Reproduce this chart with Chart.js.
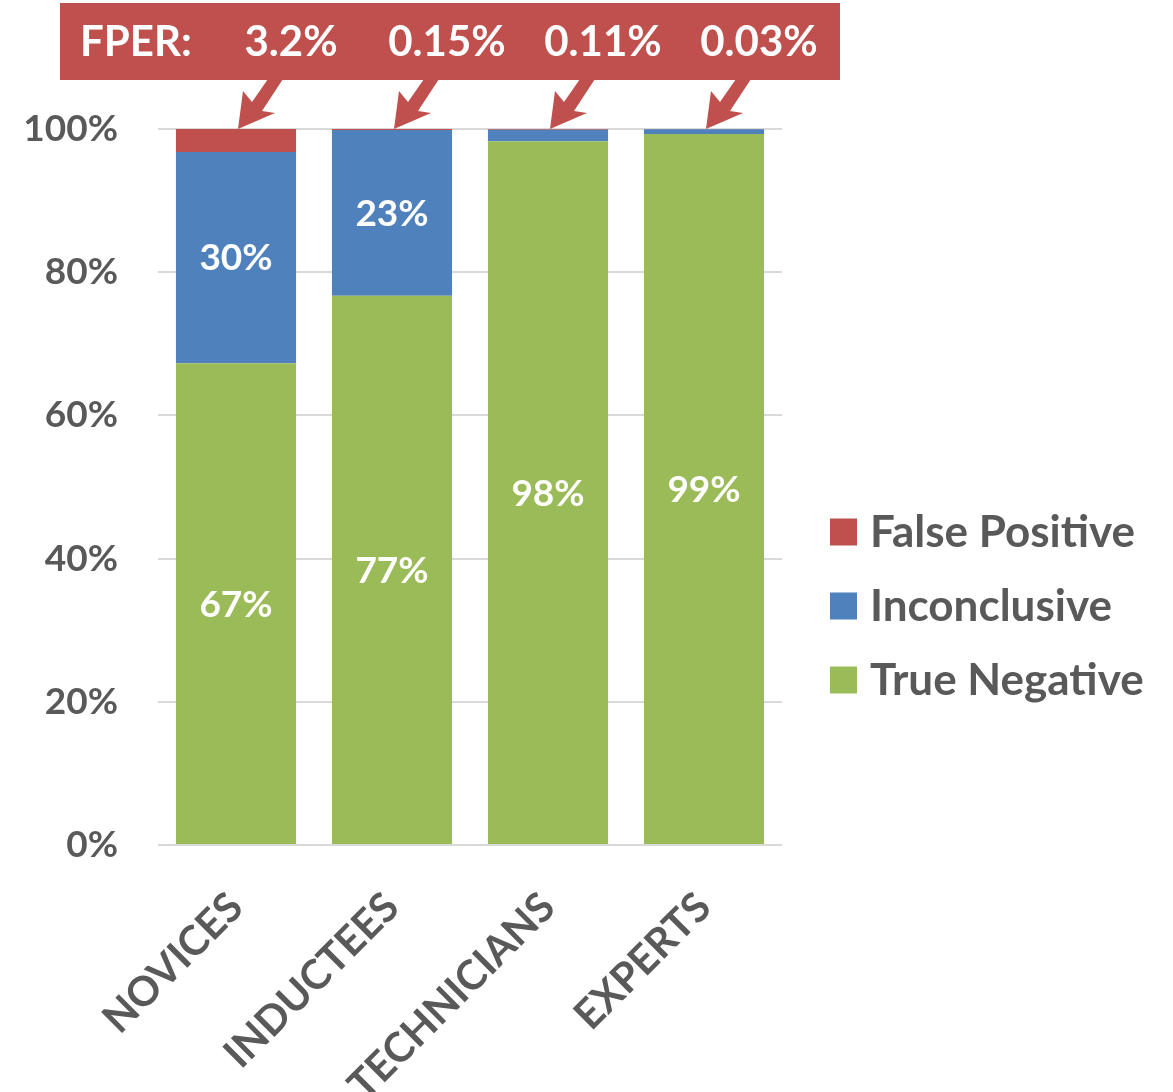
<!DOCTYPE html>
<html>
<head>
<meta charset="utf-8">
<script src="https://cdn.jsdelivr.net/npm/chart.js@4.4.0/dist/chart.umd.min.js"></script>
<style>
  html, body { margin: 0; padding: 0; background: #fff; }
</style>
</head>
<body>
<canvas id="chart" width="1173" height="1092"></canvas>
<script>
const groups = ['NOVICES', 'INDUCTEES', 'TECHNICIANS', 'EXPERTS'];
const trueNegative = [67.3, 76.7, 98.3, 99.3];
const inconclusive = [29.5, 23.15, 1.59, 0.67];
const falsePositive = [3.2, 0.15, 0.11, 0.03];
const fperLabels = ['3.2%', '0.15%', '0.11%', '0.03%'];
const yTicks = [0, 20, 40, 60, 80, 100];

const RED = '#C0504D';
const BLUE = '#4F81BD';
const GREEN = '#9BBB59';
const GREY = '#595959';
const FONT = 'Lato, "Noto Sans", sans-serif';

// white percentage labels in the middle of the big segments
const segmentLabels = {
  id: 'segmentLabels',
  afterDatasetsDraw(chart) {
    const ctx = chart.ctx;
    ctx.save();
    ctx.fillStyle = '#fff';
    ctx.font = 'bold 37px ' + FONT;
    ctx.textAlign = 'center';
    ctx.textBaseline = 'middle';
    [0, 1].forEach(di => {
      const meta = chart.getDatasetMeta(di);
      meta.data.forEach((bar, i) => {
        const h = bar.base - bar.y;
        if (h < 40) return;
        const v = chart.data.datasets[di].data[i];
        ctx.fillText(Math.round(v) + '%', bar.x, (bar.y + bar.base) / 2 + 1);
      });
    });
    ctx.restore();
  }
};

// red FPER banner with arrows pointing at the top of each bar
const fperBanner = {
  id: 'fperBanner',
  afterDraw(chart) {
    const ctx = chart.ctx;
    const meta = chart.getDatasetMeta(2);
    const top = chart.scales.y.getPixelForValue(100);
    ctx.save();
    ctx.fillStyle = RED;
    ctx.fillRect(60, 3, 780, 77);
    meta.data.forEach(bar => {
      const tx = bar.x + 2, ty = top;
      ctx.beginPath();
      ctx.moveTo(tx, ty);
      ctx.lineTo(tx + 5, ty - 38);
      ctx.lineTo(tx + 14, ty - 27);
      ctx.lineTo(tx + 30, ty - 50);
      ctx.lineTo(tx + 45, ty - 50);
      ctx.lineTo(tx + 24, ty - 18);
      ctx.lineTo(tx + 37, ty - 16);
      ctx.closePath();
      ctx.fill();
    });
    ctx.fillStyle = '#fff';
    ctx.font = 'bold 42px ' + FONT;
    ctx.textBaseline = 'middle';
    ctx.textAlign = 'left';
    ctx.fillText('FPER:', 80, 42);
    ctx.textAlign = 'center';
    meta.data.forEach((bar, i) => {
      ctx.fillText(fperLabels[i], bar.x + 55, 42);
    });
    ctx.restore();
  }
};

// legend on the right, top item = top of the stack
const sideLegend = {
  id: 'sideLegend',
  afterDraw(chart) {
    const ctx = chart.ctx;
    const sets = chart.data.datasets.slice().reverse();
    ctx.save();
    ctx.font = 'bold 44px ' + FONT;
    ctx.textBaseline = 'middle';
    ctx.textAlign = 'left';
    sets.forEach((ds, k) => {
      const cy = 532 + k * 74;
      ctx.fillStyle = ds.backgroundColor;
      ctx.fillRect(830, cy - 13.5, 27, 27);
      ctx.fillStyle = GREY;
      ctx.fillText(ds.label, 870, cy + 1);
    });
    ctx.restore();
  }
};

new Chart(document.getElementById('chart'), {
  type: 'bar',
  data: {
    labels: groups,
    datasets: [
      { label: 'True Negative', data: trueNegative, backgroundColor: GREEN },
      { label: 'Inconclusive', data: inconclusive, backgroundColor: BLUE },
      { label: 'False Positive', data: falsePositive, backgroundColor: RED }
    ]
  },
  options: {
    responsive: false,
    animation: false,
    devicePixelRatio: 1,
    barPercentage: 0.77,
    categoryPercentage: 1.0,
    layout: { padding: { top: 129, right: 391, left: 0, bottom: 0 } },
    plugins: {
      legend: { display: false },
      tooltip: { enabled: false }
    },
    scales: {
      x: {
        stacked: true,
        grid: { display: false },
        border: { display: false },
        ticks: {
          minRotation: 45,
          maxRotation: 45,
          padding: 30,
          color: GREY,
          font: { family: FONT, size: 41, weight: 'bold' }
        },
        afterFit(scale) { scale.height = 247; }
      },
      y: {
        stacked: true,
        min: 0,
        max: 100,
        afterBuildTicks(scale) { scale.ticks = yTicks.map(v => ({ value: v })); },
        ticks: {
          padding: 40,
          color: GREY,
          font: { family: FONT, size: 37, weight: 'bold' },
          callback: v => v + '%'
        },
        grid: { color: '#D9D9D9', lineWidth: 2, drawTicks: false },
        border: { display: false },
        afterFit(scale) { scale.width = 158; }
      }
    }
  },
  plugins: [segmentLabels, fperBanner, sideLegend]
});
</script>
</body>
</html>
